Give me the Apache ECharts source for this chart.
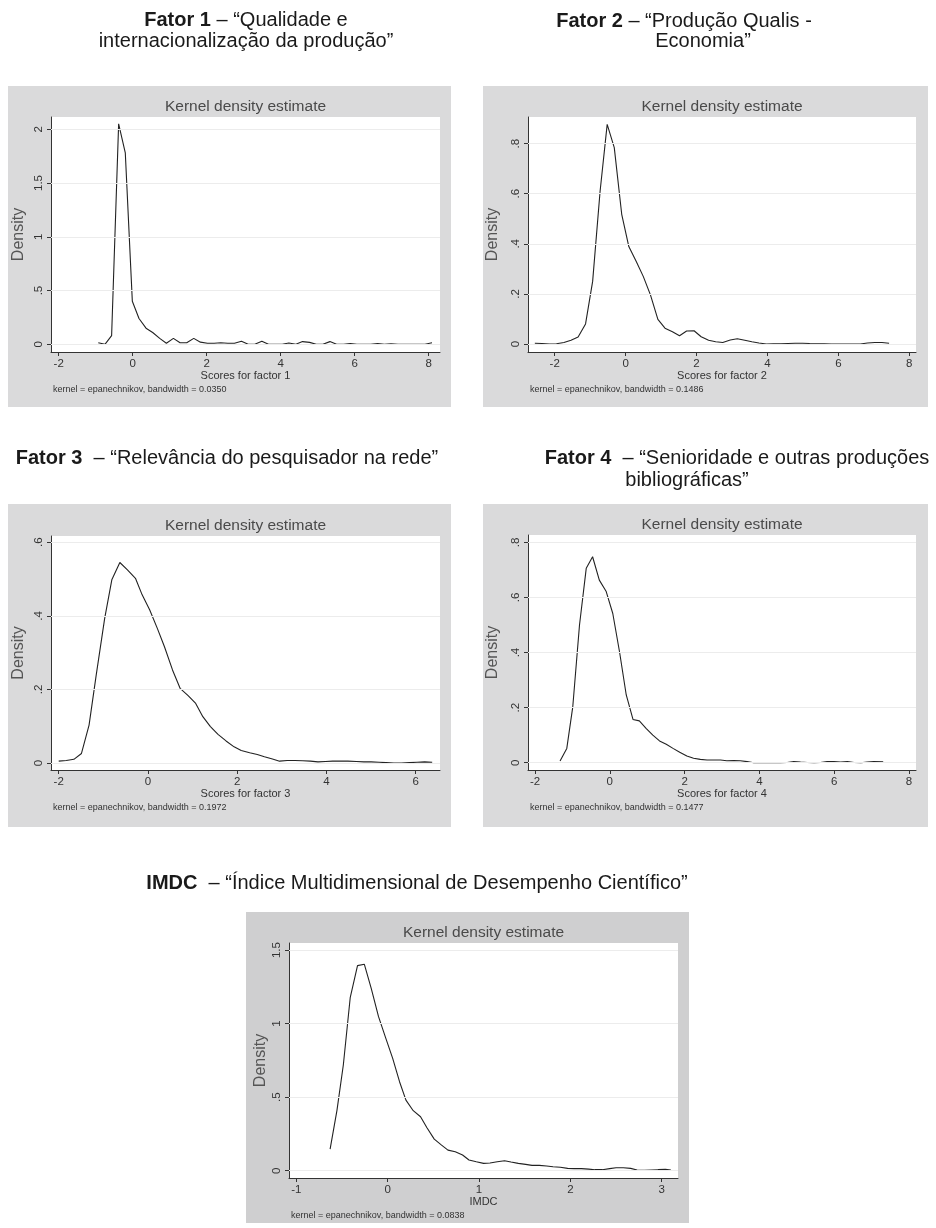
<!DOCTYPE html>
<html>
<head>
<meta charset="utf-8">
<script src="https://cdn.jsdelivr.net/npm/echarts@6/dist/echarts.min.js"></script>
<style>
  html, body { margin: 0; padding: 0; background: #ffffff; }
  #chart { width: 936px; height: 1228px; }
</style>
</head>
<body>
<div id="chart"></div>
<script>
// ---------------- DATA ----------------
const f1X = [-0.93,-0.75,-0.57,-0.38,-0.20,-0.01,0.17,0.36,0.54,0.73,0.91,1.10,1.28,1.46,1.65,1.83,2.02,2.20,2.38,2.57,2.75,2.94,3.12,3.30,3.49,3.67,3.86,4.04,4.22,4.41,4.59,4.78,4.96,5.14,5.33,5.51,5.70,5.88,6.06,6.25,6.43,6.62,6.80,6.98,7.17,7.35,7.54,7.72,7.90,8.09];
const f1Y = [0.015,0.0,0.08,2.05,1.78,0.40,0.24,0.15,0.11,0.055,0.01,0.055,0.015,0.015,0.055,0.02,0.01,0.01,0.015,0.01,0.01,0.028,0.0,0.0,0.028,0.0,0.0,0.0,0.012,0.0,0.025,0.018,0.0,0.0,0.025,0.0,0.0,0.008,0.0,0.0,0.0,0.008,0.0,0.004,0.0,0.0,0.0,0.0,0.0,0.015];

const f2X = [-2.56,-2.36,-2.15,-1.95,-1.74,-1.54,-1.34,-1.13,-0.93,-0.72,-0.52,-0.32,-0.11,0.09,0.30,0.50,0.70,0.91,1.11,1.32,1.52,1.72,1.93,2.13,2.34,2.54,2.74,2.95,3.15,3.36,3.56,3.76,3.97,4.17,4.38,4.58,4.78,4.99,5.19,5.40,5.60,5.80,6.01,6.21,6.42,6.62,6.82,7.03,7.23,7.43];
const f2Y = [0.003,0.002,0.0,0.001,0.006,0.015,0.028,0.08,0.25,0.61,0.877,0.784,0.518,0.389,0.329,0.269,0.196,0.098,0.063,0.049,0.033,0.052,0.053,0.029,0.015,0.009,0.006,0.016,0.021,0.015,0.009,0.004,0.0,0.001,0.001,0.002,0.003,0.003,0.002,0.001,0.001,0.0,0.0,0.0,0.0,0.0,0.004,0.006,0.006,0.003];

const f3X = [-2.0,-1.83,-1.66,-1.49,-1.32,-1.16,-0.97,-0.81,-0.63,-0.46,-0.28,-0.13,0.04,0.21,0.37,0.55,0.72,0.90,1.07,1.23,1.40,1.57,1.75,1.93,2.09,2.28,2.45,2.61,2.79,2.95,3.12,3.29,3.47,3.64,3.81,3.98,4.14,4.33,4.48,4.67,4.84,5.00,5.18,5.34,5.51,5.68,5.86,6.03,6.20,6.37];
const f3Y = [0.005,0.007,0.01,0.026,0.103,0.239,0.393,0.498,0.545,0.525,0.502,0.457,0.416,0.366,0.316,0.253,0.203,0.183,0.162,0.126,0.099,0.078,0.060,0.044,0.034,0.028,0.023,0.017,0.011,0.005,0.007,0.007,0.006,0.005,0.003,0.004,0.005,0.005,0.005,0.004,0.003,0.003,0.002,0.001,0.0,0.0,0.001,0.002,0.003,0.002];

const f4X = [-1.33,-1.15,-0.99,-0.81,-0.63,-0.46,-0.28,-0.10,0.08,0.26,0.44,0.62,0.79,0.97,1.15,1.33,1.51,1.69,1.87,2.06,2.24,2.42,2.60,2.78,2.96,3.13,3.31,3.49,3.67,3.85,4.03,4.21,4.38,4.56,4.74,4.92,5.10,5.28,5.46,5.63,5.81,5.99,6.17,6.35,6.53,6.71,6.88,7.06,7.31];
const f4Y = [0.006,0.052,0.203,0.50,0.706,0.748,0.663,0.623,0.542,0.403,0.246,0.157,0.152,0.125,0.100,0.079,0.067,0.052,0.038,0.024,0.016,0.012,0.010,0.010,0.010,0.007,0.008,0.007,0.004,0.0,0.0,0.0,0.0,0.0,0.001,0.004,0.002,0.001,0.0,0.001,0.004,0.004,0.002,0.004,0.001,0.0,0.002,0.004,0.003];

const imdcX = [-0.63,-0.555,-0.485,-0.41,-0.33,-0.255,-0.18,-0.10,-0.02,0.055,0.13,0.20,0.28,0.36,0.43,0.51,0.59,0.66,0.74,0.82,0.89,0.97,1.05,1.12,1.20,1.28,1.35,1.43,1.51,1.58,1.66,1.74,1.81,1.89,1.97,2.04,2.12,2.20,2.27,2.35,2.43,2.50,2.58,2.66,2.73,2.81,2.89,2.96,3.04,3.10];
const imdcY = [0.147,0.41,0.72,1.176,1.394,1.403,1.24,1.047,0.90,0.764,0.605,0.48,0.408,0.367,0.292,0.215,0.174,0.14,0.129,0.107,0.073,0.061,0.05,0.052,0.061,0.068,0.059,0.05,0.043,0.036,0.036,0.032,0.027,0.023,0.016,0.014,0.014,0.011,0.007,0.007,0.014,0.02,0.02,0.016,0.005,0.002,0.005,0.007,0.009,0.005];

// tick values and labels
const xTicksA = [-2, 0, 2, 4, 6, 8];
const xLabelsA = ['-2', '0', '2', '4', '6', '8'];
const xTicks3 = [-2, 0, 2, 4, 6];
const xLabels3 = ['-2', '0', '2', '4', '6'];
const xTicks5 = [-1, 0, 1, 2, 3];
const xLabels5 = ['-1', '0', '1', '2', '3'];
const yTicks1 = [0, 0.5, 1, 1.5, 2];
const yLabels1 = ['0', '.5', '1', '1.5', '2'];
const yTicks2 = [0, 0.2, 0.4, 0.6, 0.8];
const yLabels2 = ['0', '.2', '.4', '.6', '.8'];
const yTicks3 = [0, 0.2, 0.4, 0.6];
const yLabels3 = ['0', '.2', '.4', '.6'];
const yTicks5 = [0, 0.5, 1, 1.5];
const yLabels5 = ['0', '.5', '1', '1.5'];

const xNames = ['Scores for factor 1', 'Scores for factor 2', 'Scores for factor 3', 'Scores for factor 4', 'IMDC'];
const notes = [
  'kernel = epanechnikov, bandwidth = 0.0350',
  'kernel = epanechnikov, bandwidth = 0.1486',
  'kernel = epanechnikov, bandwidth = 0.1972',
  'kernel = epanechnikov, bandwidth = 0.1477',
  'kernel = epanechnikov, bandwidth = 0.0838'
];
const plotTitle = 'Kernel density estimate';
const yName = 'Density';

// ---------------- LAYOUT ----------------
const FONT = '"Liberation Sans", Arial, Helvetica, sans-serif';
const panels = [
  { x: f1X, y: f1Y, xt: xTicksA, xl: xLabelsA, yt: yTicks1, yl: yLabels1,
    box: [8, 86, 443, 321], plot: [51, 117, 389, 235], xr: [-2.208, 8.305], yr: [-0.0716, 2.114], ng: 24, bg: '#dadadb' },
  { x: f2X, y: f2Y, xt: xTicksA, xl: xLabelsA, yt: yTicks2, yl: yLabels2,
    box: [483, 86, 445, 321], plot: [528, 117, 388, 235], xr: [-2.753, 8.189], yr: [-0.032, 0.9065], ng: 27, bg: '#dadadb' },
  { x: f3X, y: f3Y, xt: xTicks3, xl: xLabels3, yt: yTicks3, yl: yLabels3,
    box: [8, 504, 443, 323], plot: [51, 536, 389, 234], xr: [-2.173, 6.545], yr: [-0.019, 0.617], ng: 24, bg: '#dadadb' },
  { x: f4X, y: f4Y, xt: xTicksA, xl: xLabelsA, yt: yTicks2, yl: yLabels2,
    box: [483, 504, 445, 323], plot: [528, 535, 388, 235], xr: [-2.187, 8.187], yr: [-0.0265, 0.827], ng: 27.5, bg: '#dadadb' },
  { x: imdcX, y: imdcY, xt: xTicks5, xl: xLabels5, yt: yTicks5, yl: yLabels5,
    box: [246, 912, 443, 311], plot: [289, 943, 389, 235], xr: [-1.080, 3.178], yr: [-0.0496, 1.548], ng: 20.5, bg: '#cfcfd0' }
];

const headings = [
  { t: '{b|Fator 1} – “Qualidade e', x: 246, y: 20 },
  { t: 'internacionalização da produção”', x: 246, y: 41 },
  { t: '{b|Fator 2} – “Produção Qualis -', x: 684, y: 21 },
  { t: 'Economia”', x: 703, y: 41 },
  { t: '{b|Fator 3}  – “Relevância do pesquisador na rede”', x: 227, y: 458 },
  { t: '{b|Fator 4}  – “Senioridade e outras produções', x: 737, y: 458 },
  { t: 'bibliográficas”', x: 687, y: 480 },
  { t: '{b|IMDC}  – “Índice Multidimensional de Desempenho Científico”', x: 417, y: 883 }
];

const grids = [], xAxes = [], yAxes = [], series = [], graphics = [];

headings.forEach(h => {
  graphics.push({
    type: 'text', x: h.x, y: h.y, z: 5,
    style: {
      text: h.t, fill: '#1a1a1a', font: '20px ' + FONT, align: 'center', verticalAlign: 'middle',
      rich: { b: { fontWeight: 'bold', fontSize: 20, fontFamily: FONT, fill: '#1a1a1a' } }
    }
  });
});

panels.forEach((p, i) => {
  const [bx, by, bw, bh] = p.box;
  const [px, py, pw, ph] = p.plot;
  graphics.push({ type: 'rect', z: -20, shape: { x: bx, y: by, width: bw, height: bh }, style: { fill: p.bg } });
  graphics.push({ type: 'rect', z: -19, shape: { x: px, y: py, width: pw, height: ph }, style: { fill: '#ffffff' } });
  graphics.push({ type: 'text', z: 5, x: px + pw / 2, y: py - 10,
    style: { text: plotTitle, font: '15.5px ' + FONT, fill: '#4a4a4a', align: 'center', verticalAlign: 'middle' } });
  graphics.push({ type: 'text', z: 5, x: px + 2, y: py + ph + 38,
    style: { text: notes[i], font: '9px ' + FONT, fill: '#333333', align: 'left', verticalAlign: 'middle' } });

  grids.push({ left: px, top: py, width: pw, height: ph, containLabel: false, show: false });

  xAxes.push({
    type: 'value', gridIndex: i, min: p.xr[0], max: p.xr[1],
    axisLine: { show: true, onZero: false, lineStyle: { color: '#333333', width: 1 } },
    axisTick: { show: true, customValues: p.xt, length: 4, inside: false, lineStyle: { color: '#333333' } },
    axisLabel: { show: true, customValues: p.xt, margin: 6, fontSize: 11.5, fontFamily: FONT, color: '#333333',
      formatter: (v) => { const k = p.xt.indexOf(v); return k >= 0 ? p.xl[k] : ''; } },
    splitLine: { show: false },
    name: xNames[i], nameLocation: 'middle', nameGap: 17,
    nameTextStyle: { fontSize: 11, fontFamily: FONT, color: '#333333' }
  });
  yAxes.push({
    type: 'value', gridIndex: i, min: p.yr[0], max: p.yr[1],
    axisLine: { show: true, onZero: false, lineStyle: { color: '#333333', width: 1 } },
    axisTick: { show: true, customValues: p.yt, length: 4, inside: false, lineStyle: { color: '#333333' } },
    axisLabel: { show: true, customValues: p.yt, rotate: 90, margin: 6, fontSize: 11.5, fontFamily: FONT, color: '#333333',
      formatter: (v) => { const k = p.yt.indexOf(v); return k >= 0 ? p.yl[k] : ''; } },
    splitLine: { show: false },
    name: yName, nameLocation: 'middle', nameGap: p.ng, nameRotate: 90,
    nameTextStyle: { fontSize: 16, fontFamily: FONT, color: '#555555' }
  });

  // horizontal grid lines at the y ticks
  series.push({
    type: 'line', xAxisIndex: i, yAxisIndex: i, data: [], z: 1, silent: true,
    markLine: {
      silent: true, symbol: ['none', 'none'], animation: false,
      label: { show: false },
      lineStyle: { color: '#ececec', type: 'solid', width: 1.2 },
      data: p.yt.map(v => ({ yAxis: v }))
    }
  });
  series.push({
    type: 'line', xAxisIndex: i, yAxisIndex: i, z: 3,
    data: p.x.map((v, k) => [v, p.y[k]]),
    showSymbol: false, symbol: 'none', smooth: false, animation: false,
    lineStyle: { color: '#222222', width: 1.1 }
  });
});

const chart = echarts.init(document.getElementById('chart'), null, { renderer: 'canvas' });
chart.setOption({
  backgroundColor: '#ffffff',
  animation: false,
  grid: grids, xAxis: xAxes, yAxis: yAxes, series: series,
  graphic: { elements: graphics }
});
</script>
</body>
</html>
